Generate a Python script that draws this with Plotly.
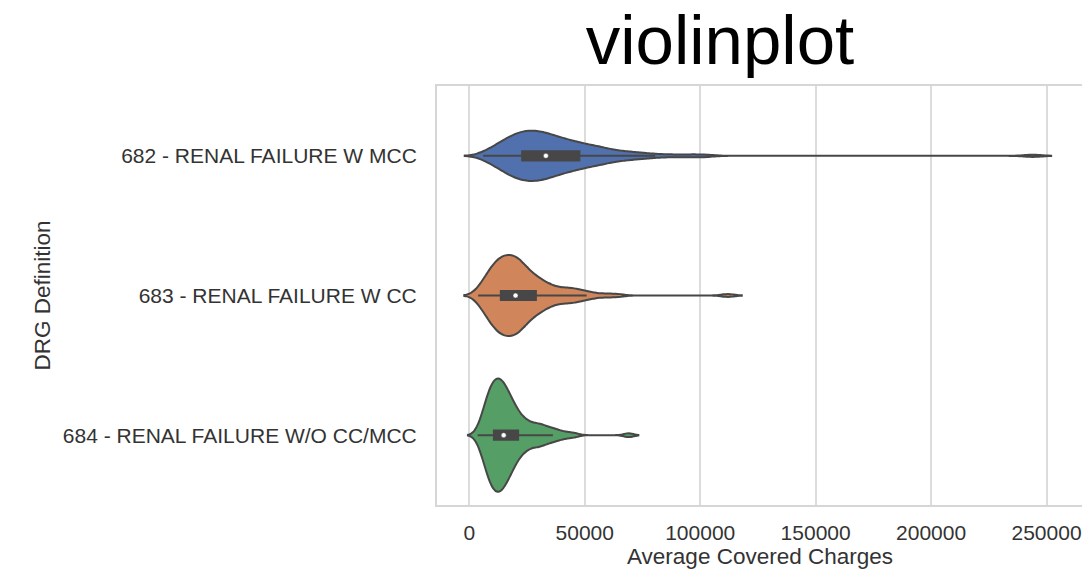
import numpy as np
import plotly.graph_objects as go

# DRG categories (top to bottom)
categories = [
    "682 - RENAL FAILURE W MCC",
    "683 - RENAL FAILURE W CC",
    "684 - RENAL FAILURE W/O CC/MCC",
]

# samples of average covered charges per DRG (100 each)
charges_682 = [
    6000, 8000, 9500,
    10400, 11500, 12450, 13300, 14050, 14750, 15400, 16000,
    16550, 17070, 17580, 18080, 18570, 19050, 19520, 19990, 20450, 20910, 21360, 21810, 22260,
    22700, 23100, 23500, 23900, 24300, 24700, 25100, 25500, 25900, 26300, 26700, 27100, 27500, 27900, 28300, 28700,
    29100, 29520, 29940, 30360, 30780, 31200, 31630, 32060, 32500, 32940, 33380, 33830, 34290, 34750, 35220,
    35700, 36200, 36700, 37220, 37750, 38290, 38840, 39400, 39970, 40550, 41140, 41740, 42350,
    43000, 43700, 44400, 45100, 45820, 46550, 47290, 48040, 48800, 49570,
    50400, 51400, 52400, 53400, 54400, 55450, 56500, 57550, 58650,
    60000, 61800, 63700, 65700, 67800, 70000, 73000, 76200, 80500, 87500,
    95000, 102000, 244000,
]
charges_683 = [
    3800, 4600, 5500, 6200,
    6900, 7400, 7850, 8270, 8670, 9050, 9420, 9780, 10130, 10470, 10800, 11120, 11430,
    11700, 11960, 12220, 12480, 12740, 13000, 13260, 13520, 13780, 14040, 14300,
    14560, 14820, 15080, 15340, 15600, 15860, 16120, 16380, 16640, 16900,
    17150, 17400, 17650, 17900, 18150, 18400, 18650, 18900, 19150,
    19400, 19650, 19900, 20150, 20400, 20650, 20900, 21150, 21400,
    21700, 21980, 22270, 22570, 22880, 23200, 23530, 23870, 24220, 24580, 24950, 25330, 25720, 26120, 26530, 26950,
    27500, 28000, 28550, 29100, 29650, 30250, 30850, 31450, 32100, 32750,
    33600, 34500, 35400, 36400, 37700, 39000, 40300, 41600, 42900,
    44200, 45600, 47100, 48700, 50800, 53600, 58500,
    64000, 112000,
]
charges_684 = [
    3600,
    4700, 5300, 5800, 6200, 6550, 6850, 7150, 7400, 7650, 7880,
    8100, 8320, 8530, 8740, 8940, 9130, 9320, 9510, 9690, 9870,
    10050, 10220, 10390, 10560, 10730, 10900, 11070, 11240, 11410, 11580,
    11750, 11920, 12090, 12260, 12430,
    12600, 12760, 12920, 13080, 13240, 13400, 13570, 13740, 13910, 14080, 14250, 14430, 14610,
    14790, 14970, 15160, 15350, 15540, 15730, 15930, 16130, 16330, 16540, 16750, 16960, 17180,
    17420, 17660, 17910, 18170, 18440, 18720, 19010, 19310, 19620, 19940, 20270, 20610, 20960, 21320,
    21900, 22400, 22900, 23450, 24000, 24600, 25200, 25850,
    26800, 27600, 28400, 29200, 30000, 30800, 31600,
    32600, 33700, 34900, 36200, 37600, 39500, 42000, 45500,
    69000,
]

x_ticks = [0, 50000, 100000, 150000, 200000, 250000]

series = [charges_682, charges_683, charges_684]
colors = ["#5071ad", "#d0855a", "#559f66"]
bandwidths = [4000, 3000, 2100]
violin_widths = [0.36, 0.58, 0.81]
edge = "#474747"

fig = go.Figure()
for cat, vals, col, bw, vw in zip(categories, series, colors, bandwidths, violin_widths):
    fig.add_trace(go.Violin(
        x=vals, y=[cat] * len(vals), orientation="h",
        fillcolor=col, line=dict(color=edge, width=2),
        bandwidth=bw, spanmode="soft", points=False,
        width=vw, scalemode="width",
        box=dict(visible=True, width=0.066 / vw, fillcolor=edge,
                 line=dict(color=edge, width=2)),
        showlegend=False, hoverinfo="skip",
    ))

# white median dots, as seaborn draws them
fig.add_trace(go.Scatter(
    x=[float(np.median(v)) for v in series], y=categories, mode="markers",
    marker=dict(color="white", size=5, line=dict(color=edge, width=0.5)),
    showlegend=False, hoverinfo="skip",
))

# the page body has an 8px margin, so the figure is 8px smaller than the window
fig.update_layout(
    width=1082, height=566,
    margin=dict(l=429, r=5, t=78, b=69),
    paper_bgcolor="white", plot_bgcolor="white",
    violinmode="overlay", violingap=0,
    font=dict(family="Liberation Sans, Arial, sans-serif", color="#333333"),
    title=dict(text="violinplot", x=0.658, xanchor="center", y=0.9435, yanchor="middle",
               font=dict(size=69, color="black")),
    xaxis=dict(
        range=[-14000, 265800], tickvals=x_ticks, ticktext=[str(t) for t in x_ticks],
        showgrid=True, gridcolor="#dcdcdc", gridwidth=2, zeroline=False,
        showline=True, linecolor="#d6d6d6", linewidth=2, mirror=True,
        ticks="", ticklabelstandoff=8, tickfont=dict(size=21),
        title=dict(text="Average Covered Charges", font=dict(size=22.5), standoff=4),
    ),
    yaxis=dict(
        type="category", categoryorder="array", categoryarray=categories,
        range=[2.5, -0.5], showgrid=False, zeroline=False,
        showline=True, linecolor="#d6d6d6", linewidth=2, mirror=True,
        ticks="", ticklabelstandoff=14, tickfont=dict(size=21),
        title=dict(text="DRG Definition", font=dict(size=22.5), standoff=6),
    ),
)

fig.write_html("out.html")
